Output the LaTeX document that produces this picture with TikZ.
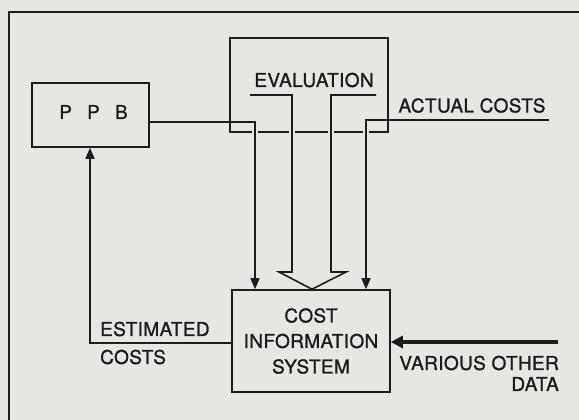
\documentclass[tikz,border=0pt]{standalone}
\usepackage{fontspec}
\setmainfont{TeX Gyre Heros}
\newfontfamily\labfont[LetterSpace=2,FakeBold=1.2]{TeX Gyre Heros}
\usetikzlibrary{arrows.meta,calc}
\definecolor{paper}{HTML}{E6E6E3}
\definecolor{ink}{HTML}{1C1C1C}
\tikzset{
  ln/.style={draw=ink, line width=1.6pt},
  box/.style={draw=ink, line width=1.6pt, rectangle, inner sep=0pt},
  lbl/.style={text=ink, inner sep=0pt, font=\labfont\fontsize{19}{25.5}\selectfont},
  tip/.style={-{Triangle[length=11pt,width=9pt]}},
  gap/.style={draw=paper, line width=2pt},
}
\begin{document}
\begin{tikzpicture}[x=1pt,y=-1pt]
\fill[paper] (0,0) rectangle (579,420);
\useasboundingbox (0,0) rectangle (579,420);
\begin{scope}
\clip (0,0) rectangle (579,420);
% outer frame
\coordinate (fbl) at (9,425);
\coordinate (ftl) at (9,12);
\coordinate (ftr) at (585,12);
\draw[ln] (fbl) -- (ftl) -- (ftr);
% boxes
\node[box, minimum width=117pt, minimum height=64pt] (ppb) at (90.5,115) {};
\node[lbl] (ppbt) at (93.5,112) {P\hspace{0.8em}P\hspace{0.8em}B};
\node[box, minimum width=158pt, minimum height=94pt] (eval) at (309,85) {};
\node[lbl] (evalt) at (314,80) {EVALUATION};
\node[box, minimum width=158pt, minimum height=102pt, align=center, lbl] (cis) at (311,341) {COST\\INFORMATION\\SYSTEM};
% gaps in evaluation bottom edge
\draw[gap] (252,132) -- (258,132);
\draw[gap] (289,132) -- (295,132);
\draw[gap] (328,132) -- (334,132);
\draw[gap] (363,132) -- (369,132);
% PPB -> CIS
\coordinate (p1) at (ppb.east |- 0,122);
\coordinate (p2) at (255,122);
\draw[ln, tip] (p1) -- (p2) -- (p2 |- cis.north);
% actual costs -> CIS
\coordinate (a0) at (549,120);
\coordinate (a1) at (366,120);
\draw[ln, tip] (a0) -- (a1) -- (a1 |- cis.north);
\node[lbl] (actt) at (472,105.5) {ACTUAL COSTS};
% evaluation -> CIS hollow arrow
\coordinate (htip) at (cis.north -| 312,0);
\draw[ln, line join=miter] (250,95) -- (292,95) -- (292,272) -- (279,272) -- (htip)
  -- (346,272) -- (331,272) -- (331,95) -- (376,95);
% CIS -> PPB estimated costs
\coordinate (e1) at (cis.west |- 0,343);
\coordinate (e2) at (90,343);
\draw[ln, tip] (e1) -- (e2) -- (e2 |- ppb.south);
\node[lbl, anchor=west] (estt) at (100,329) {ESTIMATED};
\node[lbl, anchor=west] (estc) at (100,357) {COSTS};
% various other data
\coordinate (v0) at (558,342);
\draw[draw=ink, line width=3.5pt, -{Triangle[length=12pt,width=12pt]}] (v0) -- (cis.east |- v0);
\node[lbl, anchor=east] (vart) at (559,363) {VARIOUS OTHER};
\node[lbl, anchor=east] (vard) at (559,384) {DATA};
\end{scope}
\end{tikzpicture}
\end{document}
